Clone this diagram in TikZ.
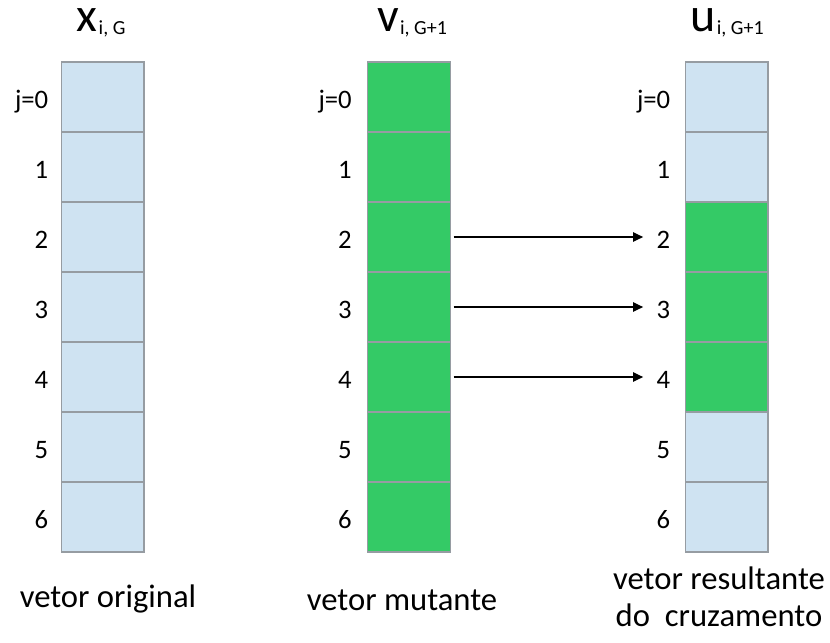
\documentclass[tikz,border=0pt]{standalone}
\usepackage{fontspec}
\setmainfont{Carlito}
\usetikzlibrary{arrows.meta, positioning}
\definecolor{cellblue}{RGB}{207,227,242}
\definecolor{cellgreen}{RGB}{52,202,102}
\definecolor{cellline}{RGB}{150,156,162}

\begin{document}
\begin{tikzpicture}[x=0.75pt, y=-0.75pt,
    cell/.style={draw=cellline, line width=1pt, minimum width=62pt, minimum height=52.5pt, inner sep=0pt},
    idx/.style={font=\fontsize{20}{24}\selectfont, inner sep=0pt, anchor=base east},
    caption/.style={font=\fontsize{24.5}{27.75}\selectfont, inner sep=0pt, anchor=base},
    head/.style={inner sep=0pt, anchor=base, text height=20pt, text depth=5pt},
    conn/.style={line width=0.9pt, -{Triangle[length=7.5pt, width=7pt]}, shorten <=2pt, shorten >=10pt}]
    % margens
    \useasboundingbox (0,0) rectangle (830,642);
    % os tres vetores
    \foreach \col/\cx/\gap/\from/\to in {x/102.5/12/9/9, v/409/15/0/6, u/726.5/14/2/4} {
      \foreach \j/\t in {0/j=0,1/1,2/2,3/3,4/4,5/5,6/6} {
        \pgfmathtruncatemacro\isgreen{(\j>=\from)&&(\j<=\to)}
        \ifnum\isgreen=1 \def\cellfill{cellgreen}\else\def\cellfill{cellblue}\fi
        \node[cell, fill=\cellfill] (\col\j) at (\cx, {97+70*\j}) {};
        \node[idx] (\col lab\j) at ([xshift=-\gap*0.75pt, yshift=-8.6pt]\col\j.west) {\t};
      }
    }
    % titulos
    \node[head] (xh) at (101, 32) {\fontsize{36}{38}\selectfont x\hspace{1pt}\raisebox{-2pt}{\fontsize{15}{17}\selectfont i, G}};
    \node[head] (vh) at (412, 32) {\fontsize{36}{38}\selectfont v\hspace{1pt}\raisebox{-2pt}{\fontsize{15}{17}\selectfont i, G+1}};
    \node[head] (uh) at (727, 32) {\fontsize{36}{38}\selectfont u\hspace{1pt}\raisebox{-2pt}{\fontsize{15}{17}\selectfont i, G+1}};
    % cruzamento
    \foreach \j in {2,3,4}
      \draw[conn] (v\j.east) -- (v\j.east -| ulab\j.west);
    % legendas
    \node[caption] (capx) at (108, 607) {vetor original};
    \node[caption] (capv) at (402, 610) {vetor mutante};
    \node[caption, align=center] (capu) at (719, 626) {vetor resultante\\do\ \ cruzamento};
\end{tikzpicture}
\end{document}
